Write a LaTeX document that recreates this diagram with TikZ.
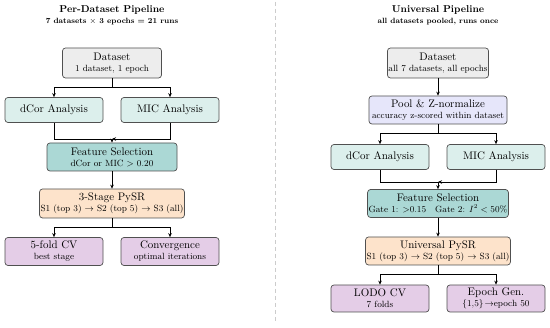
\documentclass[tikz,border=0pt,11pt]{standalone}
\usepackage{amsmath,amssymb}
\usepackage{tikz}
\usetikzlibrary{arrows.meta,positioning}
\definecolor{boxedge}{HTML}{505050}
\definecolor{datagray}{HTML}{EDEDED}
\definecolor{lightteal}{HTML}{DCEFEC}
\definecolor{midteal}{HTML}{ABD8D5}
\definecolor{peach}{HTML}{FDE3CB}
\definecolor{lilac}{HTML}{E4CDE7}
\definecolor{poolblue}{HTML}{E6E6FA}

\begin{document}
\begin{tikzpicture}[x=1pt,y=-1pt,
			box/.style={draw=boxedge,line width=0.7pt,rounded corners=3pt,align=center,inner sep=1pt,font=\fontsize{10.95}{11}\selectfont},
			datab/.style={box,fill=datagray,minimum width=99pt,minimum height=30pt},
			anab/.style={box,fill=lightteal,minimum width=98pt,minimum height=25pt},
			selb/.style={box,fill=midteal,minimum height=28pt},
			symb/.style={box,fill=peach,minimum height=29pt},
			outb/.style={box,fill=lilac,minimum width=98pt,minimum height=28pt},
			poolb/.style={box,fill=poolblue,minimum width=138pt,minimum height=28pt},
			ttl/.style={font=\fontsize{10}{11}\selectfont\bfseries},
			subttl/.style={font=\fontsize{7.6}{9}\selectfont\bfseries},
			arr/.style={-{Stealth[length=4pt,width=3.5pt]},line width=0.8pt,black}
			]
			\useasboundingbox (0,0) rectangle (550,328);
			\draw[black!20,line width=0.8pt,dash pattern=on 4pt off 3pt] (275,2) -- (275,322);
			% per-dataset pipeline
			\node[ttl] (ttlA) at (112,10) {Per-Dataset Pipeline};
			\node[subttl] (subA) at (112,22) {7 datasets $\times$ 3 epochs = 21 runs};
			\node[datab] (dataA) at (112,63) {Dataset\\{\footnotesize 1 dataset, 1 epoch}};
			\node[anab] (dcorA) at (54,110) {dCor Analysis};
			\node[anab] (micA) at (170,110) {MIC Analysis};
			\node[selb,minimum width=130pt] (selA) at (112,157) {Feature Selection\\{\footnotesize dCor or MIC $>$ 0.20}};
			\node[symb,minimum width=139pt] (pysrA) at (112,203.5) {3-Stage PySR\\{\footnotesize S1 (top 3) $\rightarrow$ S2 (top 5) $\rightarrow$ S3 (all)}};
			\node[outb] (cvA) at (54,251.5) {5-fold CV\\{\footnotesize best stage}};
			\node[outb] (convA) at (170,251.5) {Convergence\\{\footnotesize optimal iterations}};
			\coordinate (joinA) at (112,139);
			\draw[arr] (dataA.south) -- ++(0,9) -| (dcorA.north);
			\draw[arr] (dataA.south) -- ++(0,9) -| (micA.north);
			\draw[arr] (dcorA.south) |- (joinA) -- (selA.north);
			\draw[arr] (micA.south) |- (joinA);
			\draw[arr] (selA) -- (pysrA);
			\draw[arr] (pysrA.south) -- ++(0,9.5) -| (cvA.north);
			\draw[arr] (pysrA.south) -- ++(0,9.5) -| (convA.north);
			% universal pipeline
			\node[ttl] (ttlB) at (438,10) {Universal Pipeline};
			\node[subttl] (subB) at (438,22) {all datasets pooled, runs once};
			\node[datab,minimum width=100pt] (dataB) at (438,63) {Dataset\\{\footnotesize all 7 datasets, all epochs}};
			\node[poolb] (poolB) at (438,110) {Pool \& Z-normalize\\{\footnotesize accuracy z-scored within dataset}};
			\node[anab] (dcorB) at (380,157) {dCor Analysis};
			\node[anab] (micB) at (496,157) {MIC Analysis};
			\node[selb,minimum width=138pt] (selB) at (438,203.5) {Feature Selection\\{\footnotesize Gate 1: $>$0.15\quad Gate 2: $I^2<50\%$}};
			\node[symb,minimum width=138pt,minimum height=28pt] (pysrB) at (438,251) {Universal PySR\\{\footnotesize S1 (top 3) $\rightarrow$ S2 (top 5) $\rightarrow$ S3 (all)}};
			\node[outb,minimum height=27pt] (lodoB) at (380,298.5) {LODO CV\\{\footnotesize 7 folds}};
			\node[outb,minimum height=27pt] (epochB) at (496,298.5) {Epoch Gen.\\{\footnotesize $\{1{,}5\}\!\rightarrow$epoch 50}};
			\coordinate (joinB) at (438,182);
			\draw[arr] (dataB) -- (poolB);
			\draw[arr] (poolB.south) -- ++(0,9) -| (dcorB.north);
			\draw[arr] (poolB.south) -- ++(0,9) -| (micB.north);
			\draw[arr] (dcorB.south) |- (joinB) -- (selB.north);
			\draw[arr] (micB.south) |- (joinB);
			\draw[arr] (selB) -- (pysrB);
			\draw[arr] (pysrB.south) -- ++(0,9) -| (lodoB.north);
			\draw[arr] (pysrB.south) -- ++(0,9) -| (epochB.north);
		\end{tikzpicture}
\end{document}
